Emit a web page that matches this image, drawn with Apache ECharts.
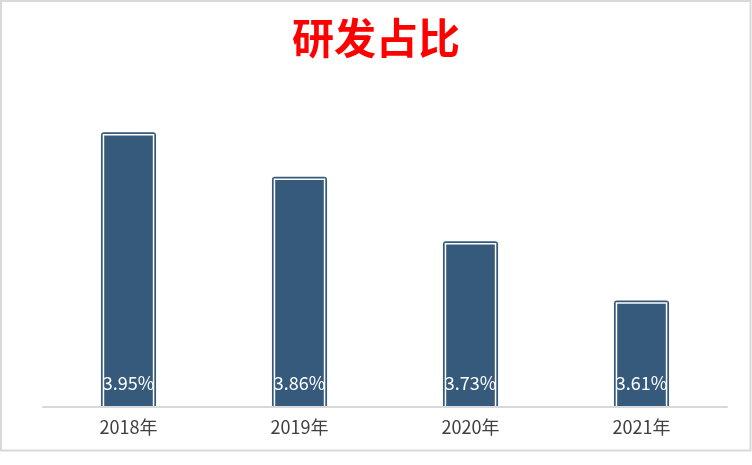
<!DOCTYPE html>
<html><head><meta charset="utf-8">
<script src="https://cdn.jsdelivr.net/npm/echarts@6/dist/echarts.min.js"></script>
<style>html,body{margin:0;padding:0;background:#fff}#c{width:752px;height:465px}</style>
</head><body><div id="c"></div>
<script>
const categories = ['2018年','2019年','2020年','2021年'];
const values = [3.95, 3.86, 3.73, 3.61];
const titleText = '研发占比';
const font = '"Noto Sans CJK SC", "Microsoft YaHei", sans-serif';
const yMin = 3.4, yMax = 4.0;
const chart = echarts.init(document.getElementById('c'));
const dark = '#365a7c';
chart.setOption({
  backgroundColor: '#fff',
  animation: false,
  title: { text: titleText, left: 'center', top: 12,
    textStyle: { color: '#ff0000', fontSize: 42, fontWeight: 'bold', fontFamily: font } },
  graphic: [{ type: 'rect', shape: { x: 1, y: 1, width: 749.5, height: 449.5 },
    style: { fill: 'none', stroke: '#d9d9d9', lineWidth: 2 }, silent: true }],
  grid: { left: 43, right: 25, top: 110, bottom: 58, containLabel: false },
  xAxis: { type: 'category', data: categories, z: 5,
    axisLine: { lineStyle: { color: '#d9d9d9', width: 2 } },
    axisTick: { show: false },
    axisLabel: { color: '#404040', fontSize: 18, fontFamily: font, margin: 11 } },
  yAxis: { type: 'value', min: yMin, max: yMax, show: false, splitLine: { show: false } },
  series: [{
    type: 'custom',
    data: values.map((v, i) => [i, v]),
    z: 3,
    renderItem: function (params, api) {
      const top = api.coord([api.value(0), api.value(1)]);
      const base = api.coord([api.value(0), yMin]);
      const w = api.size([1, 0])[0] * 0.293;
      const cx = top[0];
      const h = base[1] - top[1] - 1;
      return {
        type: 'group',
        children: [
          { type: 'rect', shape: { x: cx - w / 2 - 2.5, y: top[1] - 2.5, width: w + 5, height: h + 2.5, r: [3, 3, 0, 0] },
            style: { fill: dark } },
          { type: 'rect', shape: { x: cx - w / 2, y: top[1], width: w, height: h + 2 },
            style: { fill: dark, stroke: '#ffffff', lineWidth: 1.5 } },
          { type: 'text', x: cx, y: base[1] - 24,
            style: { text: api.value(1).toFixed(2) + '%', fill: '#ffffff', font: '18px ' + font,
              align: 'center', verticalAlign: 'middle' } }
        ]
      };
    }
  }]
});
</script></body></html>
